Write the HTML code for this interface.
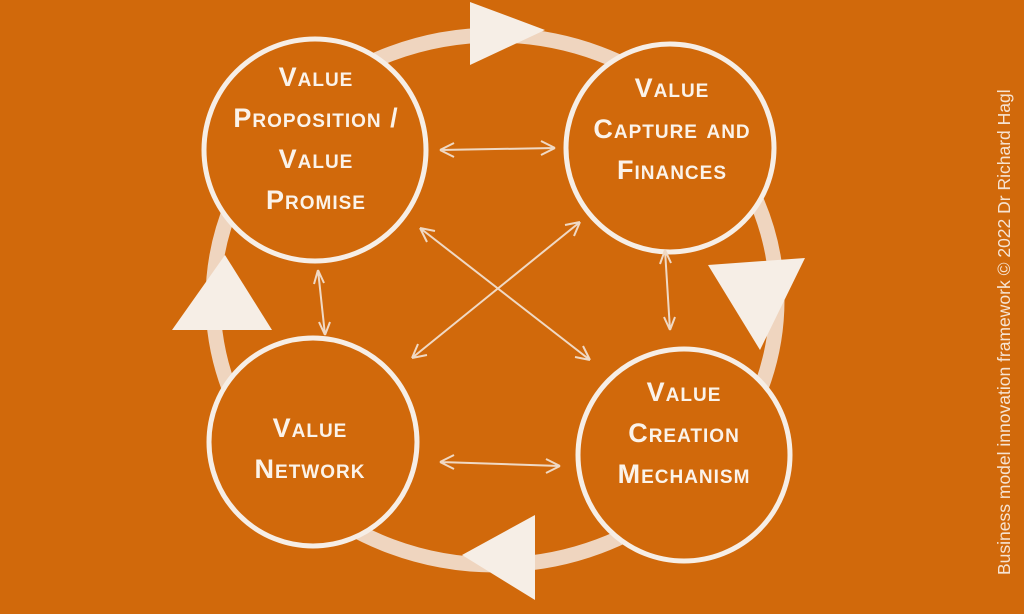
<!DOCTYPE html>
<html><head><meta charset="utf-8"><style>
html,body{margin:0;padding:0}
body{width:1024px;height:614px;background:#d1690b;overflow:hidden;position:relative;font-family:"Liberation Sans",sans-serif}
svg{position:absolute;left:0;top:0}
.t{position:absolute;color:#fbf3ea;font-weight:bold;font-variant:small-caps;font-size:27px;text-align:center;line-height:41px;letter-spacing:1px;transform:translateX(-50%);white-space:nowrap}
.v{position:absolute;left:994px;top:575px;transform-origin:0 0;transform:rotate(-90deg);color:#f6e3d2;font-size:17.5px;white-space:nowrap}
</style></head><body>
<svg width="1024" height="614" viewBox="0 0 1024 614">
<g fill="none" stroke="#f4e9df">
<ellipse cx="495" cy="300" rx="282" ry="265" stroke-width="15" opacity="0.85"/>
</g>
<g fill="#f6eee6">
<polygon points="470,2 470,65 545,30"/>
<polygon points="708,265 805,258 760,350"/>
<polygon points="535,515 535,600 462,555"/>
<polygon points="172,330 272,330 225,255"/>
</g>
<g fill="#d1690b" stroke="#f6eee6" stroke-width="5">
<circle cx="315" cy="150" r="111"/>
<circle cx="670" cy="148" r="104"/>
<circle cx="313" cy="442" r="104"/>
<circle cx="684" cy="455" r="106"/>
</g>
<g stroke="#f0d9c4" stroke-width="2" fill="none">
<path d="M440,150 L555,148 M440,150 l14,-7 M440,150 l14,7 M555,148 l-14,-7 M555,148 l-14,7"/>
<path d="M440,462 L560,466 M440,462 l14,-7 M440,462 l14,7 M560,466 l-14,-7 M560,466 l-14,7"/>
<path d="M318,270 L325,335 M318,270 l-4,14 M318,270 l6,13 M325,335 l-6,-13 M325,335 l5,-13"/>
<path d="M665,250 L670,330 M665,250 l-5,14 M665,250 l6,13 M670,330 l-6,-13 M670,330 l5,-13"/>
<path d="M420,228 L590,360 M420,228 l7,14 M420,228 l15,3 M590,360 l-15,-3 M590,360 l-7,-14"/>
<path d="M580,222 L412,358 M580,222 l-15,3 M580,222 l-6,14 M412,358 l15,-3 M412,358 l6,-14"/>
</g>
</svg>
<div class="t" style="left:316px;top:57px">Value<br>Proposition /<br>Value<br>Promise</div>
<div class="t" style="left:672px;top:68px">Value<br>Capture and<br>Finances</div>
<div class="t" style="left:310px;top:408px">Value<br>Network</div>
<div class="t" style="left:684px;top:372px">Value<br>Creation<br>Mechanism</div>
<div class="v">Business model innovation framework © 2022 Dr Richard Hagl</div>
</body></html>
